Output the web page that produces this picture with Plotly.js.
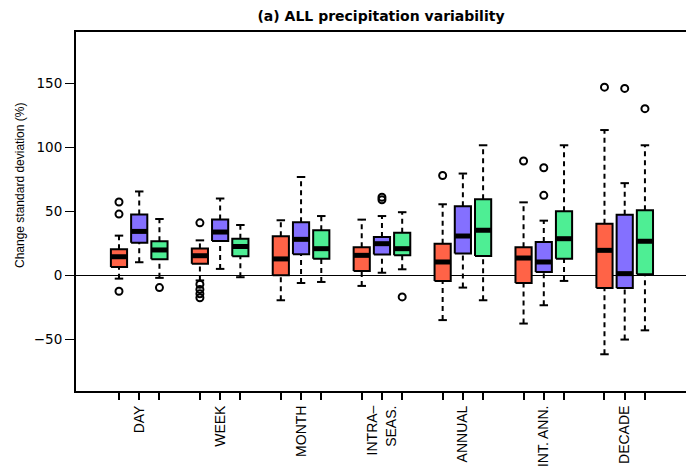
<!DOCTYPE html>
<html>
<head>
<meta charset="utf-8">
<script src="https://cdn.plot.ly/plotly-3.0.1.min.js"></script>
<style>
html,body{margin:0;padding:0;background:#fff;}
#chart{width:686px;height:474px;}
</style>
</head>
<body>
<div id="chart"></div>
<script>
// ---- data ----
var categories = ['DAY', 'WEEK', 'MONTH', 'INTRA–<br>SEAS.', 'ANNUAL', 'INT. ANN.', 'DECADE'];
var seriesNames = ['Series 1', 'Series 2', 'Series 3'];
var seriesColors = ['#FF6347', '#8470FF', '#4EEE94'];

// Series 1 (red)
var s1Low    = [-2.6, -4,   -19.5, -8.3,  -35,   -37.7, -61.7];
var s1Q1     = [6.5,  9,    0,     3.4,   -4.4,  -6,    -9.9];
var s1Median = [14.5, 15.3, 12.8,  15.6,  10.4,  13.5,  19.5];
var s1Q3     = [20.3, 21,   30.5,  22,    24.7,  22,    40.3];
var s1High   = [31,   27.3, 43,    43.5,  55.5,  57,    113.5];
var s1Out    = [[57.3, 47.8, -12.5], [41, -7, -11, -14.5, -17.5], [], [], [78], [89.3], [147]];

// Series 2 (blue)
var s2Low    = [10.2, 5,    -6,    2,     -9.6,  -23.4, -50.2];
var s2Q1     = [25.5, 26.8, 16.5,  16.2,  17,    2.6,   -9.9];
var s2Median = [34.3, 33.8, 28.1,  24.7,  30.7,  10.4,  1.3];
var s2Q3     = [47.6, 43.6, 41.4,  30,    54,    26,    47.4];
var s2High   = [65.5, 60,   76.8,  46.3,  79.5,  42.7,  72];
var s2Out    = [[], [], [], [59, 61], [], [84, 62.5], [146]];

// Series 3 (green)
var s3Low    = [-2,   -1.5, -5.2,  4.7,   -19.5, -4.4,  -43];
var s3Q1     = [12.5, 14.8, 13,    15.6,  15.1,  13,    0.8];
var s3Median = [19.8, 22.5, 20.8,  20.8,  35.2,  28.6,  26.6];
var s3Q3     = [26.6, 28.6, 35.2,  33.3,  59.4,  50,    50.8];
var s3High   = [44,   39.3, 46.3,  49.3,  101.6, 101.6, 101.6];
var s3Out    = [[-9.6], [], [], [-16.9], [], [], [130.2]];

var yTickVals = [-50, 0, 50, 100, 150];

// ---- build traces ----
var allSeries = [
  {low: s1Low, q1: s1Q1, med: s1Median, q3: s1Q3, high: s1High, out: s1Out},
  {low: s2Low, q1: s2Q1, med: s2Median, q3: s2Q3, high: s2High, out: s2Out},
  {low: s3Low, q1: s3Q1, med: s3Median, q3: s3Q3, high: s3High, out: s3Out}
];
var BW = 0.4;   // half box width (axis units)
var CW = 0.21;  // half staple width
function pos(g, s) { return 4 * g + s + 1; }

var whiskerTraces = [], boxTraces = [], medTraces = [], capTraces = [], outTraces = [];
allSeries.forEach(function (S, s) {
  var wx = [], wy = [], bx = [], by = [], mx = [], my = [], cx = [], cy = [], ox = [], oy = [];
  for (var g = 0; g < categories.length; g++) {
    var p = pos(g, s);
    wx.push(p, p, null, p, p, null);
    wy.push(S.q3[g], S.high[g], null, S.low[g], S.q1[g], null);
    bx.push(p - BW, p + BW, p + BW, p - BW, p - BW, null);
    by.push(S.q1[g], S.q1[g], S.q3[g], S.q3[g], S.q1[g], null);
    mx.push(p - BW, p + BW, null);
    my.push(S.med[g], S.med[g], null);
    cx.push(p - CW, p + CW, null, p - CW, p + CW, null);
    cy.push(S.high[g], S.high[g], null, S.low[g], S.low[g], null);
    S.out[g].forEach(function (v) { ox.push(p); oy.push(v); });
  }
  whiskerTraces.push({x: wx, y: wy, type: 'scatter', mode: 'lines', hoverinfo: 'skip', showlegend: false,
    line: {color: '#000', width: 2, dash: '5px,4px'}});
  boxTraces.push({x: bx, y: by, type: 'scatter', mode: 'lines', fill: 'toself', fillcolor: seriesColors[s],
    name: seriesNames[s], showlegend: false, line: {color: '#000', width: 2}});
  medTraces.push({x: mx, y: my, type: 'scatter', mode: 'lines', hoverinfo: 'skip', showlegend: false,
    line: {color: '#000', width: 5}});
  capTraces.push({x: cx, y: cy, type: 'scatter', mode: 'lines', hoverinfo: 'skip', showlegend: false,
    line: {color: '#000', width: 2}});
  outTraces.push({x: ox, y: oy, type: 'scatter', mode: 'markers', showlegend: false,
    marker: {symbol: 'circle-open', size: 7, color: '#000', line: {width: 2, color: '#000'}}});
});
var traces = [].concat(whiskerTraces, boxTraces, medTraces, capTraces, outTraces);

// x ticks: one per box, label on middle box of each group
var xTickVals = [], xTickText = [];
for (var g = 0; g < categories.length; g++) {
  for (var s = 0; s < 3; s++) {
    xTickVals.push(pos(g, s));
    xTickText.push(s === 1 ? categories[g] : '');
  }
}

var layout = {
  width: 686, height: 474,
  margin: {l: 76, r: 0, t: 32, b: 83, pad: 0},
  paper_bgcolor: '#fff', plot_bgcolor: '#fff',
  showlegend: false,
  title: {
    text: '(a) ALL precipitation variability',
    font: {family: 'DejaVu Sans', size: 14, color: '#000', weight: 'bold'},
    xref: 'paper', x: 0.5, xanchor: 'center',
    yref: 'container', y: 0.966, yanchor: 'middle'
  },
  xaxis: {
    range: [-1.125, 29.03], showgrid: false, zeroline: false,
    showline: true, linecolor: '#000', linewidth: 2, mirror: true,
    tickmode: 'array', tickvals: xTickVals, ticktext: xTickText,
    ticks: 'outside', ticklen: 7, tickwidth: 2, tickcolor: '#000',
    tickangle: -90,
    tickfont: {family: 'Liberation Sans, Arial, sans-serif', size: 14, color: '#000'}
  },
  yaxis: {
    range: [-90.4, 190.1], showgrid: false,
    zeroline: true, zerolinecolor: '#000', zerolinewidth: 1,
    showline: true, linecolor: '#000', linewidth: 2, mirror: false,
    tickmode: 'array', tickvals: yTickVals,
    ticks: 'outside', ticklen: 9, tickwidth: 1.5, tickcolor: '#000',
    tickfont: {family: 'DejaVu Sans', size: 13.5, color: '#000'}
  },
  annotations: [{
    text: 'Change standard deviation (%)',
    xref: 'paper', yref: 'paper', x: -0.0918, y: 0.571,
    xanchor: 'center', yanchor: 'middle', textangle: -90, showarrow: false,
    font: {family: 'Liberation Sans, Arial, sans-serif', size: 12, color: '#000'}
  }]
};

Plotly.newPlot('chart', traces, layout, {displayModeBar: false, staticPlot: true});
</script>
</body>
</html>
